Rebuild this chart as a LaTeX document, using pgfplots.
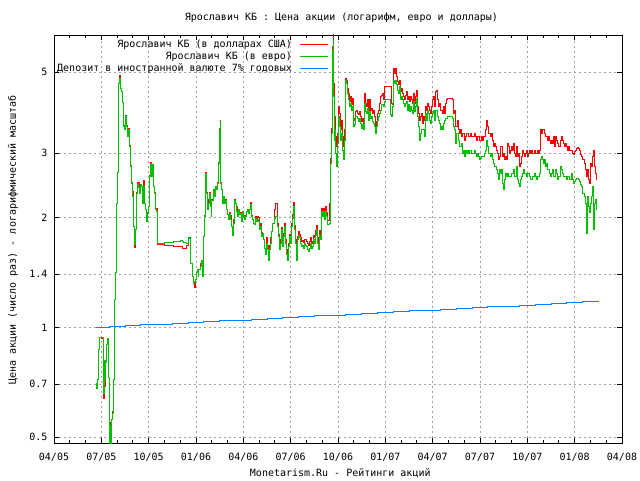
\documentclass[border=0pt]{standalone}
\usepackage{fontspec}
\setmainfont{DejaVu Sans Mono}
\usepackage{pgfplots}
\usepackage{pgfplotstable}
\pgfplotsset{compat=1.18}
\definecolor{gpred}{RGB}{255,0,0}
\definecolor{gpgreen}{RGB}{0,192,0}
\definecolor{gpblue}{RGB}{0,128,255}
\definecolor{gpgrid}{RGB}{160,160,160}

% m = months since 04/2005; r = USD series; g = EUR series
\pgfplotstableread{
m r g
2.661 0.70 0.70
2.704 0.69 0.68
2.746 0.72 0.72
2.809 0.87 0.87
2.873 0.94 0.94
3.021 0.93 0.94
3.126 0.94 0.94
3.147 0.78 0.78
3.168 0.64 0.66
3.211 0.81 0.81
3.253 0.69 0.72
3.295 0.80 0.80
3.338 0.90 0.90
3.401 0.93 0.93
3.464 0.73 0.73
3.507 0.57 0.57
3.549 0.47 0.47
3.591 0.55 0.54
3.633 0.47 0.47
3.676 0.56 0.56
3.718 0.59 0.58
3.760 0.72 0.72
3.824 1.19 1.19
3.887 1.41 1.41
3.971 2.19 2.19
4.035 2.66 2.66
4.098 4.66 4.66
4.162 4.90 4.81
4.225 4.52 4.52
4.288 4.43 4.43
4.352 4.12 4.12
4.394 3.57 3.55
4.457 3.50 3.48
4.521 3.80 3.78
4.584 3.57 3.55
4.648 3.36 3.33
4.711 3.50 3.48
4.774 3.15 3.13
4.838 2.77 2.76
4.901 2.50 2.48
4.965 2.35 2.28
5.028 1.89 1.89
5.091 1.66 1.69
5.155 1.85 1.85
5.218 2.34 2.33
5.281 2.50 2.48
5.345 2.50 2.42
5.408 2.34 2.33
5.472 2.47 2.47
5.535 2.44 2.44
5.598 2.19 2.19
5.662 2.52 2.44
5.725 2.19 2.19
5.789 2.10 2.10
5.852 1.95 1.95
5.915 2.06 2.05
5.979 2.15 2.14
6.042 2.60 2.59
6.106 2.83 2.82
6.169 2.63 2.59
6.232 2.80 2.80
6.296 2.44 2.43
6.359 2.34 2.33
6.422 2.10 2.10
6.507 2.12 2.08
6.570 1.69 1.70
7.035 1.68 1.71
7.564 1.67 1.72
7.986 1.67 1.73
8.113 1.65 1.72
8.197 1.65 1.71
8.409 1.68 1.70
8.514 1.76 1.75
8.620 1.56 1.56
8.683 1.50 1.50
8.747 1.38 1.38
8.810 1.32 1.32
8.874 1.29 1.34
8.937 1.35 1.35
9.000 1.41 1.41
9.064 1.44 1.44
9.127 1.38 1.38
9.190 1.44 1.44
9.254 1.50 1.47
9.317 1.53 1.53
9.381 1.38 1.38
9.444 1.77 1.77
9.507 2.02 2.01
9.571 2.66 2.64
9.634 2.34 2.33
9.698 2.10 2.10
9.761 2.24 2.19
9.824 2.34 2.33
9.888 2.15 2.14
9.951 2.02 2.01
10.014 2.24 2.23
10.078 2.39 2.38
10.141 2.29 2.28
10.205 2.44 2.43
10.268 2.39 2.38
10.331 2.50 2.48
10.395 2.83 2.82
10.458 3.50 3.48
10.522 3.68 3.66
10.564 2.50 2.48
10.627 2.39 2.38
10.691 2.19 2.19
10.754 2.29 2.28
10.817 2.19 2.19
10.881 2.24 2.23
10.944 2.10 2.10
11.008 2.04 2.04
11.071 2.02 1.97
11.134 2.06 2.05
11.198 2.02 1.97
11.261 1.89 1.89
11.325 1.79 1.79
11.388 1.97 1.93
11.451 2.24 2.23
11.515 2.19 2.19
11.578 2.14 2.08
11.642 2.02 2.01
11.705 2.10 2.10
11.768 2.04 2.04
11.832 2.06 2.05
11.895 1.95 1.95
11.959 2.08 2.08
12.022 2.02 2.01
12.085 1.97 1.97
12.149 2.02 2.01
12.212 2.08 2.08
12.275 2.10 2.10
12.339 2.06 2.05
12.402 2.10 2.10
12.466 2.20 2.17
12.529 2.02 2.01
12.592 1.97 1.97
12.656 1.93 1.93
12.719 1.91 1.91
12.783 2.01 1.99
12.846 1.99 1.95
12.909 2.01 1.97
12.973 2.00 1.95
13.036 1.89 1.85
13.100 1.93 1.89
13.163 1.82 1.77
13.226 1.81 1.81
13.290 1.74 1.74
13.353 1.65 1.65
13.416 1.63 1.58
13.480 1.76 1.70
13.543 1.68 1.63
13.607 1.58 1.53
13.670 1.68 1.63
13.733 1.76 1.70
13.797 1.83 1.83
13.860 1.93 1.93
13.945 2.10 1.99
14.008 2.18 2.01
14.072 2.19 2.01
14.135 1.93 1.89
14.198 1.80 1.77
14.262 1.66 1.63
14.325 1.74 1.70
14.389 1.88 1.85
14.452 1.70 1.67
14.515 1.81 1.77
14.579 1.93 1.89
14.642 1.74 1.70
14.705 1.63 1.58
14.769 1.56 1.53
14.832 1.70 1.67
14.896 1.80 1.77
14.959 1.74 1.70
15.022 1.93 1.89
15.086 2.04 1.99
15.149 2.20 2.14
15.213 1.90 1.85
15.276 1.74 1.70
15.339 1.57 1.53
15.403 1.78 1.74
15.466 1.83 1.79
15.530 1.80 1.76
15.593 1.76 1.70
15.656 1.72 1.67
15.720 1.73 1.68
15.783 1.71 1.65
15.846 1.74 1.70
15.910 1.74 1.68
15.973 1.72 1.67
16.037 1.70 1.63
16.100 1.68 1.61
16.163 1.72 1.65
16.227 1.76 1.70
16.290 1.70 1.65
16.354 1.72 1.67
16.417 1.79 1.74
16.480 1.76 1.70
16.544 1.84 1.79
16.607 1.90 1.85
16.670 1.76 1.70
16.734 1.69 1.63
16.797 1.84 1.79
16.861 1.78 1.74
16.924 2.12 2.08
16.988 2.06 2.01
17.051 2.12 2.08
17.114 2.02 1.97
17.178 2.14 2.08
17.241 2.06 2.01
17.304 1.96 1.91
17.368 1.96 1.91
17.431 2.19 1.93
17.495 2.55 2.48
17.537 2.90 2.82
17.579 3.50 3.40
17.621 4.60 4.47
17.664 5.90 5.75
17.706 6.40 6.10
17.744 4.67 4.29
17.787 3.48 3.26
17.829 3.78 3.48
17.871 3.33 3.00
17.914 3.13 2.76
17.977 3.40 3.20
18.040 4.03 3.78
18.104 3.86 3.55
18.167 3.48 3.26
18.230 3.70 3.40
18.294 3.33 3.06
18.357 3.13 2.88
18.421 3.48 3.26
18.484 4.81 4.76
18.547 4.76 4.67
18.611 4.52 4.38
18.674 4.38 4.20
18.738 4.16 4.03
18.801 4.29 4.11
18.864 4.07 3.94
18.928 4.24 4.03
18.991 3.70 3.55
19.055 3.74 3.59
19.118 3.90 3.78
19.181 3.94 3.78
19.245 3.86 3.74
19.308 3.82 3.66
19.371 3.90 3.74
19.435 3.78 3.63
19.498 3.66 3.51
19.562 3.74 3.59
19.625 3.63 3.48
19.688 4.38 4.11
19.752 4.11 3.90
19.815 4.03 3.86
19.879 4.20 3.98
19.942 3.94 3.70
20.005 4.20 3.90
20.069 3.94 3.74
20.132 3.98 3.78
20.196 3.86 3.66
20.259 3.94 3.63
20.322 3.78 3.55
20.386 3.55 3.40
20.449 3.66 3.55
20.512 3.86 3.70
20.576 3.94 3.78
20.639 4.11 3.86
20.703 4.29 3.94
20.766 4.33 4.07
20.829 4.38 4.07
20.893 4.20 4.03
20.956 4.57 4.16
21.020 4.58 4.20
21.294 4.58 4.20
21.337 4.58 3.82
21.400 4.11 3.78
21.463 4.07 4.03
21.527 5.12 4.76
21.590 4.97 4.67
21.654 5.12 4.76
21.717 4.86 4.62
21.780 4.71 4.47
21.844 4.62 4.38
21.907 4.76 4.57
21.970 4.43 4.20
22.034 4.52 4.29
22.097 4.38 4.20
22.161 4.29 4.11
22.224 4.20 4.03
22.287 4.33 4.11
22.351 4.43 4.16
22.414 4.20 3.94
22.478 4.29 4.07
22.541 4.16 3.90
22.604 4.29 4.03
22.668 4.20 3.94
22.731 4.11 3.86
22.794 4.38 4.16
22.858 4.11 3.90
22.921 4.29 4.03
22.985 4.47 4.24
23.048 4.03 3.78
23.111 3.86 3.55
23.175 3.70 3.26
23.238 3.78 3.40
23.302 3.86 3.48
23.365 3.63 3.48
23.428 3.78 3.48
23.492 3.70 3.33
23.555 4.03 3.86
23.619 3.94 3.70
23.682 4.11 3.94
23.745 4.03 3.86
23.809 3.94 3.70
23.872 3.86 3.63
23.936 4.03 3.78
23.999 4.20 3.86
24.062 4.29 3.94
24.126 4.03 3.70
24.189 4.43 3.94
24.253 4.47 3.94
24.316 4.20 3.78
24.379 4.03 3.70
24.443 4.11 3.63
24.506 3.94 3.48
24.569 3.94 3.55
24.633 3.86 3.48
24.696 4.03 3.63
24.760 3.86 3.70
24.823 4.11 3.74
24.886 4.20 3.74
24.971 4.24 3.78
25.203 4.24 3.78
25.267 4.20 3.74
25.330 3.86 3.55
25.394 3.94 3.48
25.457 3.55 3.20
25.520 3.55 3.40
25.584 3.70 3.40
25.647 3.48 3.26
25.711 3.40 3.13
25.774 3.48 3.13
25.837 3.33 3.20
25.901 3.40 3.00
25.964 3.40 3.06
26.027 3.26 2.94
26.091 3.33 3.06
26.154 3.40 3.00
26.218 3.40 3.06
26.281 3.33 3.00
26.344 3.33 3.06
26.408 3.40 3.06
26.471 3.33 3.00
26.535 3.33 3.00
26.598 3.33 3.00
26.661 3.40 3.06
26.725 3.33 3.00
26.788 3.26 2.94
26.851 3.33 3.00
26.915 3.33 2.94
26.978 3.26 2.88
27.042 3.26 2.91
27.105 3.33 2.94
27.168 3.26 2.94
27.232 3.33 2.94
27.295 3.33 3.00
27.359 3.48 3.06
27.422 3.70 3.26
27.485 3.55 3.13
27.549 3.40 3.00
27.612 3.40 3.00
27.675 3.33 2.94
27.739 3.40 3.00
27.802 3.26 2.88
27.866 3.13 2.82
27.929 3.20 2.76
27.992 3.13 2.76
28.056 3.06 2.70
28.119 3.00 2.64
28.183 2.88 2.54
28.246 2.94 2.70
28.309 3.13 2.64
28.373 3.13 2.70
28.436 2.94 2.48
28.499 3.00 2.38
28.563 2.88 2.54
28.626 2.94 2.64
28.690 2.88 2.59
28.753 3.20 2.64
28.816 3.13 2.59
28.880 3.00 2.59
28.943 3.06 2.59
29.007 3.13 2.64
29.070 3.06 2.64
29.133 3.20 2.70
29.197 3.00 2.59
29.260 2.94 2.59
29.324 3.13 2.76
29.387 2.94 2.54
29.450 3.00 2.48
29.514 2.76 2.43
29.577 2.82 2.54
29.641 2.94 2.59
29.704 3.06 2.64
29.767 3.00 2.70
29.831 2.94 2.64
29.894 3.00 2.64
29.957 3.06 2.59
30.021 2.94 2.64
30.084 3.00 2.64
30.148 3.06 2.59
30.211 3.00 2.54
30.274 3.06 2.54
30.338 3.00 2.59
30.401 3.00 2.59
30.465 3.06 2.64
30.528 3.00 2.59
30.591 3.00 2.54
30.655 3.06 2.59
30.718 3.00 2.59
30.782 3.06 2.64
30.845 3.48 2.88
30.908 3.40 2.94
30.972 3.48 2.88
31.035 3.48 2.82
31.098 3.40 2.88
31.162 3.33 2.76
31.225 3.33 2.82
31.289 3.26 2.70
31.352 3.33 2.70
31.415 3.26 2.64
31.479 3.20 2.59
31.542 3.26 2.64
31.606 3.20 2.70
31.669 3.33 2.59
31.732 3.13 2.59
31.796 3.33 2.70
31.859 3.26 2.64
31.923 3.20 2.54
31.986 3.13 2.59
32.049 3.13 2.59
32.113 3.26 2.76
32.176 3.33 2.70
32.240 3.26 2.64
32.303 3.20 2.59
32.366 3.13 2.59
32.430 3.20 2.59
32.493 3.13 2.54
32.557 3.06 2.59
32.620 3.13 2.59
32.683 3.06 2.54
32.747 3.06 2.54
32.810 3.06 2.64
32.874 3.00 2.54
32.937 2.97 2.48
33.000 3.03 2.51
33.064 3.06 2.54
33.127 3.10 2.56
33.190 3.12 2.56
33.254 3.10 2.54
33.317 3.06 2.51
33.381 2.97 2.46
33.444 2.94 2.43
33.507 2.88 2.33
33.571 2.88 2.33
33.634 2.82 2.28
33.698 2.70 2.19
33.761 2.59 1.81
33.824 2.70 2.28
33.888 2.54 2.14
33.951 2.48 2.06
34.014 2.82 2.19
34.078 2.76 2.28
34.141 2.94 2.43
34.204 3.06 1.85
34.268 2.76 2.19
34.331 2.64 2.24
34.394 2.54 2.10
}\stock

\pgfplotstableread{
m v
2.64 1.0000
3.5 1.0052
4.5 1.0104
5.5 1.0157
6.5 1.0210
7.5 1.0263
8.5 1.0316
9.5 1.0370
10.5 1.0424
11.5 1.0478
12.5 1.0532
13.5 1.0587
14.5 1.0642
15.5 1.0698
16.5 1.0753
17.5 1.0809
18.5 1.0865
19.5 1.0922
20.5 1.0979
21.5 1.1036
22.5 1.1093
23.5 1.1151
24.5 1.1209
25.5 1.1267
26.5 1.1326
27.5 1.1385
28.5 1.1444
29.5 1.1503
30.5 1.1563
31.5 1.1623
32.5 1.1684
33.5 1.1745
34.54 1.1745
}\deposit

\begin{document}
\begin{tikzpicture}
\useasboundingbox (-54pt,-37pt) rectangle (586pt,443pt);
\begin{axis}[
  at={(0pt,0pt)}, anchor=south west,
  width=568pt, height=408pt, scale only axis,
  ymode=log,
  xmin=0, xmax=36, ymin=0.4823, ymax=6.327,
  xtick={0,3,...,36},
  xticklabels={04/05,07/05,10/05,01/06,04/06,07/06,10/06,01/07,04/07,07/07,10/07,01/08,04/08},
  minor xtick={1,2,4,5,7,8,10,11,13,14,16,17,19,20,22,23,25,26,28,29,31,32,34,35},
  ytick={0.5,0.7,1,1.4,2,3,5},
  yticklabels={0.5,0.7,1,1.4,2,3,5},
  minor ytick={},
  tick align=inside,
  major tick length=5pt, minor tick length=3pt,
  every tick/.style={black, line width=0.8pt},
  grid=major,
  major grid style={gpgrid, dash pattern=on 2pt off 3pt, line width=0.8pt},
  axis line style={black, line width=0.9pt},
  xticklabel style={yshift=-7pt},
  yticklabel style={xshift=-3pt},
  title={Ярославич КБ : Цена акции (логарифм, евро и доллары)},
  title style={at={(axis description cs:0.506,1)}, anchor=base, yshift=8pt},
  xlabel={Monetarism.Ru - Рейтинги акций},
  xlabel style={at={(axis description cs:0.504,0)}, anchor=base, yshift=-33pt},
  ylabel={Цена акции (число раз) - логарифмический масштаб},
  ylabel style={at={([xshift=-38pt]axis description cs:0,0.4975)}, anchor=base},
  legend plot pos=right,
  legend cell align=right,
  legend image code/.code={\draw[#1] (0pt,0pt) -- (28pt,0pt);},
  legend style={draw=none, fill=none, inner sep=0pt, outer sep=0pt,
    at={(axis description cs:0.4824,1)}, anchor=north east, yshift=-4pt,
    nodes={inner sep=1pt, text height=8pt, text depth=2pt},
    row sep=0pt,
    /tikz/every odd column/.append style={column sep=6pt}},
]
\addplot[const plot, gpred, line width=1pt] table[x=m, y=r] {\stock};
\addlegendentry{Ярославич КБ (в долларах США)}
\addplot[const plot, gpgreen, line width=1pt] table[x=m, y=g] {\stock};
\addlegendentry{Ярославич КБ (в евро)}
\addplot[const plot, gpblue, line width=1pt] table[x=m, y=v] {\deposit};
\addlegendentry{Депозит в иностранной валюте 7\% годовых}
\end{axis}
\end{tikzpicture}
\end{document}
